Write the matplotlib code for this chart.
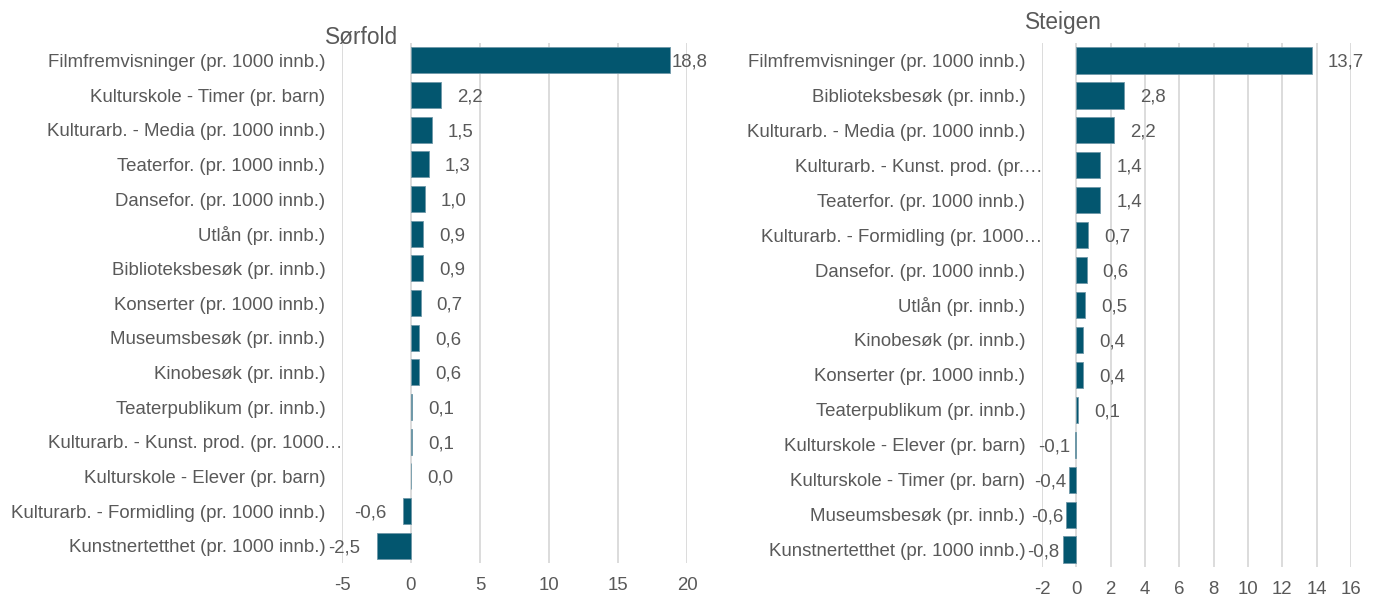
import matplotlib
matplotlib.use("Agg")
import matplotlib.pyplot as plt
from matplotlib.transforms import ScaledTranslation

plt.rcParams['font.family'] = ['Liberation Sans', 'DejaVu Sans']

# ---- data ----
sorfold_title = "Sørfold"
sorfold_categories = [
    "Filmfremvisninger (pr. 1000 innb.)",
    "Kulturskole - Timer (pr. barn)",
    "Kulturarb. - Media (pr. 1000 innb.)",
    "Teaterfor. (pr. 1000 innb.)",
    "Dansefor. (pr. 1000 innb.)",
    "Utlån (pr. innb.)",
    "Biblioteksbesøk (pr. innb.)",
    "Konserter (pr. 1000 innb.)",
    "Museumsbesøk (pr. innb.)",
    "Kinobesøk (pr. innb.)",
    "Teaterpublikum (pr. innb.)",
    "Kulturarb. - Kunst. prod. (pr. 1000…",
    "Kulturskole - Elever (pr. barn)",
    "Kulturarb. - Formidling (pr. 1000 innb.)",
    "Kunstnertetthet (pr. 1000 innb.)",
]
sorfold_values = [18.8, 2.2, 1.5, 1.3, 1.0, 0.9, 0.9, 0.7, 0.6, 0.6, 0.1, 0.1, 0.0, -0.6, -2.5]
sorfold_ticks = [-5, 0, 5, 10, 15, 20]

steigen_title = "Steigen"
steigen_categories = [
    "Filmfremvisninger (pr. 1000 innb.)",
    "Biblioteksbesøk (pr. innb.)",
    "Kulturarb. - Media (pr. 1000 innb.)",
    "Kulturarb. - Kunst. prod. (pr.…",
    "Teaterfor. (pr. 1000 innb.)",
    "Kulturarb. - Formidling (pr. 1000…",
    "Dansefor. (pr. 1000 innb.)",
    "Utlån (pr. innb.)",
    "Kinobesøk (pr. innb.)",
    "Konserter (pr. 1000 innb.)",
    "Teaterpublikum (pr. innb.)",
    "Kulturskole - Elever (pr. barn)",
    "Kulturskole - Timer (pr. barn)",
    "Museumsbesøk (pr. innb.)",
    "Kunstnertetthet (pr. 1000 innb.)",
]
steigen_values = [13.7, 2.8, 2.2, 1.4, 1.4, 0.7, 0.6, 0.5, 0.4, 0.4, 0.1, -0.1, -0.4, -0.6, -0.8]
steigen_ticks = [-2, 0, 2, 4, 6, 8, 10, 12, 14, 16]

BAR = "#03566F"
EDGE = "#6f98a8"
GRID = "#D9D9D9"
TXT = "#595959"
FS = 13.4

W, H = 1375, 596
fig = plt.figure(figsize=(W / 100, H / 100), dpi=100)


def px_axes(x0, x1, ytop, ybot):
    return fig.add_axes([x0 / W, 1 - ybot / H, (x1 - x0) / W, (ybot - ytop) / H])


def fmt(v):
    return f"{v:.1f}".replace(".", ",")


def panel(ax, cats, vals, ticks, neg_clamp):
    n = len(cats)
    y = list(range(n))
    ax.barh(y, vals, height=0.75, color=BAR, edgecolor=EDGE, linewidth=0.6, zorder=3)
    ax.set_ylim(n - 0.5, -0.5)
    ax.set_xlim(ticks[0], ticks[-1])
    ax.set_xticks(ticks)
    ax.set_xticklabels([str(t) for t in ticks])
    ax.set_yticks(y)
    ax.set_yticklabels(cats)
    for s in ax.spines.values():
        s.set_visible(False)
    ax.grid(axis='x', color=GRID, linewidth=1.3, zorder=0)
    ax.tick_params(axis='both', length=0, labelsize=FS, labelcolor=TXT)
    ax.tick_params(axis='y', pad=12)
    ax.tick_params(axis='x', pad=10)
    for lab in ax.get_yticklabels():
        if lab.get_text().endswith("…"):
            lab.set_transform(lab.get_transform() + ScaledTranslation(17 / 100, 0, fig.dpi_scale_trans))
    # data labels
    xmax = ticks[-1]
    ppu = ax.get_position().width * W / (ticks[-1] - ticks[0])
    dy = -2
    for yi, v in zip(y, vals):
        if v >= 0:
            off = 16
            if v * ppu + off + 20 > xmax * ppu:
                off = 1
            ax.annotate(fmt(v), (v, yi), xytext=(off, dy), textcoords='offset pixels',
                        ha='left', va='center', fontsize=FS, color=TXT)
        else:
            if neg_clamp:
                right_px = min(v * ppu - 3, -6)
                ax.annotate(fmt(v), (0, yi), xytext=(right_px, dy), textcoords='offset pixels',
                            ha='right', va='center', fontsize=FS, color=TXT)
            else:
                ax.annotate(fmt(v), (v, yi), xytext=(-16, dy), textcoords='offset pixels',
                            ha='right', va='center', fontsize=FS, color=TXT)


ax1 = px_axes(342, 687, 43, 563)
panel(ax1, sorfold_categories, sorfold_values, sorfold_ticks, neg_clamp=False)
ax2 = px_axes(1042, 1351, 43, 567)
panel(ax2, steigen_categories, steigen_values, steigen_ticks, neg_clamp=True)

fig.text(325 / W, 1 - 38 / H, sorfold_title, fontsize=16.3, color=TXT, ha='left', va='center')
fig.text(1025 / W, 1 - 22 / H, steigen_title, fontsize=16.3, color=TXT, ha='left', va='center')

fig.savefig("out.png", dpi=100, facecolor='white')
